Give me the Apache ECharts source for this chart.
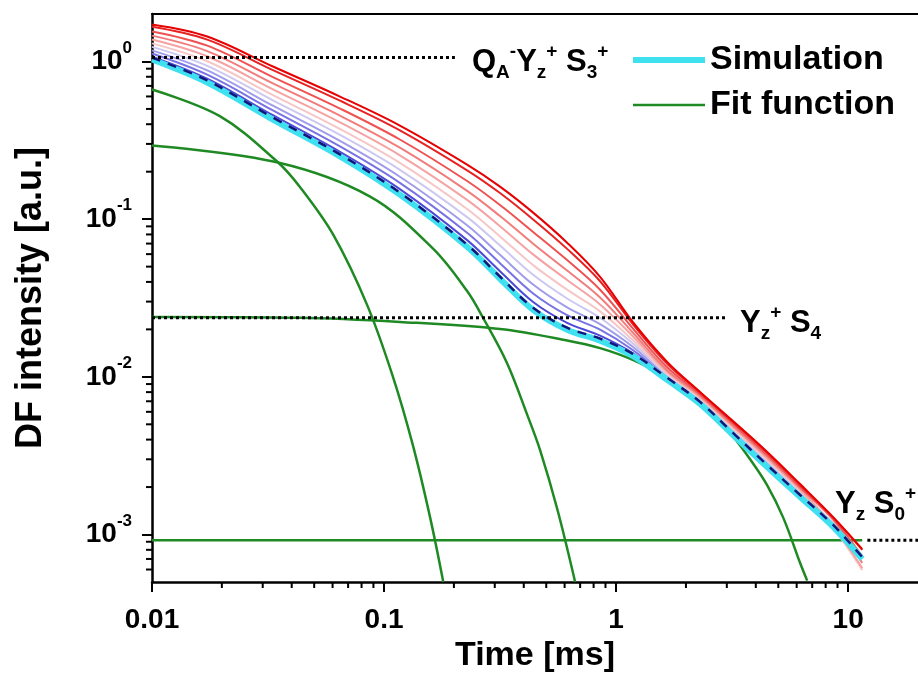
<!DOCTYPE html>
<html>
<head>
<meta charset="utf-8">
<script src="https://cdn.jsdelivr.net/npm/echarts@6/dist/echarts.min.js"></script>
<style>
  html, body { margin: 0; padding: 0; background: #fff; }
  #chart { width: 918px; height: 684px; }
</style>
</head>
<body>
<div id="chart"></div>
<script>
// ---- Simulated DF decay traces (time in ms, intensity in a.u.) ----
const simTime = [0.01, 0.0173, 0.0332, 0.0646, 0.117, 0.228, 0.316, 0.439, 0.615, 0.853, 1.18, 1.66, 2.30, 3.19, 4.48, 6.21, 8.62, 11.5];

const trace1  = [1.718, 1.441, 0.929, 0.599, 0.392, 0.2218, 0.1608, 0.110, 0.0709, 0.0431, 0.0223, 0.01245, 0.00803, 0.00525, 0.00334, 0.00209, 0.00129, 0.000809];
const trace2  = [1.659, 1.375, 0.881, 0.564, 0.366, 0.2041, 0.1464, 0.0996, 0.0648, 0.0404, 0.0216, 0.01209, 0.00794, 0.00518, 0.00330, 0.00206, 0.00128, 0.000800];
const trace3  = [1.551, 1.260, 0.796, 0.503, 0.320, 0.1745, 0.1229, 0.0829, 0.0550, 0.0357, 0.0203, 0.01150, 0.00776, 0.00505, 0.00320, 0.00201, 0.00126, 0.000725];
const trace4  = [1.458, 1.163, 0.7255, 0.453, 0.2838, 0.1512, 0.1046, 0.0699, 0.0472, 0.0319, 0.0191, 0.0110, 0.00760, 0.00492, 0.00312, 0.00197, 0.00124, 0.000660];
const trace5  = [1.379, 1.079, 0.666, 0.411, 0.254, 0.1325, 0.0902, 0.0598, 0.0411, 0.0288, 0.0181, 0.01076, 0.00745, 0.00482, 0.00304, 0.00193, 0.00113, 0.000613];
const trace6  = [1.303, 1.003, 0.612, 0.373, 0.2274, 0.1161, 0.0777, 0.0511, 0.0357, 0.0260, 0.0171, 0.01051, 0.00731, 0.00470, 0.00297, 0.00189, 0.00110, 0.000595];
const trace7  = [1.238, 0.938, 0.567, 0.342, 0.2056, 0.1030, 0.0680, 0.0444, 0.0314, 0.0237, 0.0163, 0.0103, 0.00718, 0.00461, 0.00290, 0.00186, 0.00118, 0.000737];
const trace8  = [1.176, 0.877, 0.524, 0.3135, 0.1858, 0.0914, 0.0594, 0.0385, 0.0276, 0.0216, 0.0155, 0.01009, 0.00706, 0.00452, 0.00284, 0.00182, 0.00116, 0.000726];
const trace9  = [1.124, 0.825, 0.489, 0.289, 0.1698, 0.0819, 0.0526, 0.0338, 0.0246, 0.0199, 0.01480, 0.00992, 0.00694, 0.00443, 0.00278, 0.00178, 0.00115, 0.000714];
const trace10 = [1.073, 0.777, 0.456, 0.267, 0.155, 0.0736, 0.0467, 0.0298, 0.0220, 0.01826, 0.01414, 0.00972, 0.00684, 0.00435, 0.00273, 0.00175, 0.00113, 0.000707];

// Reference simulation (thick cyan) and the dashed companion trace
const simulation  = [1.030, 0.736, 0.428, 0.250, 0.143, 0.0669, 0.0419, 0.0266, 0.0199, 0.01695, 0.01359, 0.00957, 0.00674, 0.00428, 0.00268, 0.00173, 0.001117, 0.000699];
const dashedTrace = [1.06, 0.758, 0.441, 0.2575, 0.1473, 0.0689, 0.0432, 0.0274, 0.0205, 0.01746, 0.0140, 0.00986, 0.00694, 0.00441, 0.00276, 0.00178, 0.00115, 0.00072];

// ---- Fit function components ----
const fastTime = [0.01, 0.0196, 0.0346, 0.0434, 0.0603, 0.0846, 0.109, 0.133, 0.158, 0.18];
const fastVal  = [0.664, 0.45, 0.232, 0.160, 0.080, 0.0285, 0.0101, 0.0037, 0.00128, 0.0005];

const midTime = [0.01, 0.0349, 0.0871, 0.1626, 0.228, 0.267, 0.339, 0.413, 0.470, 0.560, 0.666];
const midVal  = [0.293, 0.2285, 0.139, 0.065, 0.0350, 0.0237, 0.0122, 0.0058, 0.00344, 0.00142, 0.0005];

const slowTime = [0.01, 0.0434, 0.117, 0.316, 0.615, 0.853, 1.18, 1.66, 2.30, 2.72, 3.19, 3.78, 4.48, 5.25, 6.21, 6.66];
const slowVal  = [0.0240, 0.0237, 0.0223, 0.0201, 0.0170, 0.0152, 0.0128, 0.0099, 0.00705, 0.00557, 0.00420, 0.00300, 0.00205, 0.00128, 0.00066, 0.00051];

const constTime = [0.01, 11.5];
const constVal  = [0.00092, 0.00092];

// ---- Dotted level markers ----
const levelQA   = { time: [0.01, 0.202], value: 1.06 };
const levelYzS4 = { time: [0.01, 2.95], value: 0.0237 };
const levelYzS0 = { time: [12.1, 20], value: 0.00092 };

// ---- Axes ----
const xRange = [0.01, 20];
const yRange = [0.0005, 2];
const xTickLabels = { '-2': '0.01', '-1': '0.1', '0': '1', '1': '10' };
const xMinorTicks = [0.02, 0.03, 0.04, 0.05, 0.06, 0.07, 0.08, 0.09,
                     0.2, 0.3, 0.4, 0.5, 0.6, 0.7, 0.8, 0.9,
                     2, 3, 4, 5, 6, 7, 8, 9];
const yMinorTicks = [0.0006, 0.0007, 0.0008, 0.0009,
                     0.002, 0.003, 0.004, 0.005, 0.006, 0.007, 0.008, 0.009,
                     0.02, 0.03, 0.04, 0.05, 0.06, 0.07, 0.08, 0.09,
                     0.2, 0.3, 0.4, 0.5, 0.6, 0.7, 0.8, 0.9];

const traceColors = ['#e60000', '#e82222', '#ee5252', '#f27c7c', '#f5a2a2', '#f7c6c6',
                     '#cdc8f2', '#a09cec', '#7873e4', '#4e49d6'];
const FIT_GREEN = '#1f8a24';
const FONT = "'Liberation Sans', Arial, Helvetica, sans-serif";
const SMOOTH = 0.35;

function pairs(xs, ys) { return xs.map((x, i) => [x, ys[i]]); }

const series = [];

// fit components
[[fastTime, fastVal], [midTime, midVal], [slowTime, slowVal], [constTime, constVal]].forEach(([t, v]) => {
  series.push({
    name: 'Fit function', type: 'line', data: pairs(t, v), smooth: SMOOTH,
    symbol: 'none', lineStyle: { color: FIT_GREEN, width: 2.5 }, itemStyle: { color: FIT_GREEN },
    z: 2, silent: true
  });
});

// simulated traces, lightest drawn first
const traces = [trace1, trace2, trace3, trace4, trace5, trace6, trace7, trace8, trace9, trace10];
for (let idx = traces.length - 1; idx >= 0; idx--) {
  series.push({
    name: 'trace ' + (idx + 1), type: 'line', data: pairs(simTime, traces[idx]), smooth: SMOOTH,
    symbol: 'none', lineStyle: { color: traceColors[idx], width: 2 }, z: 3, silent: true
  });
}

series.push({
  name: 'Simulation', type: 'line', data: pairs(simTime, simulation), smooth: SMOOTH,
  symbol: 'none', lineStyle: { color: '#3fe0f0', width: 6 }, itemStyle: { color: '#3fe0f0' }, z: 4, silent: true
});
series.push({
  name: 'dashed trace', type: 'line', data: pairs(simTime, dashedTrace), smooth: SMOOTH,
  symbol: 'none', lineStyle: { color: '#16167a', width: 2.5, type: [9, 8] }, z: 5, silent: true
});

// dotted level markers
[levelQA, levelYzS4, levelYzS0].forEach(lv => {
  series.push({
    name: 'level', type: 'line', data: lv.time.map(t => [t, lv.value]),
    symbol: 'none', lineStyle: { color: '#000', width: 3, type: [3, 3] }, z: 6, silent: true
  });
});

// minor ticks drawn at log positions on both axes
function tickRenderer(horizontal) {
  return function (params, api) {
    const p = api.coord([api.value(0), api.value(1)]);
    return {
      type: 'line',
      shape: horizontal ? { x1: p[0], y1: p[1], x2: p[0], y2: p[1] + 6 }
                        : { x1: p[0], y1: p[1], x2: p[0] - 6, y2: p[1] },
      style: { stroke: '#000', lineWidth: 2 }
    };
  };
}
series.push({ type: 'custom', clip: false, silent: true, z: 7, renderItem: tickRenderer(true),
  data: xMinorTicks.map(v => [v, yRange[0]]) });
series.push({ type: 'custom', clip: false, silent: true, z: 7, renderItem: tickRenderer(false),
  data: yMinorTicks.map(v => [xRange[0], v]) });

const mainRich = {
  m:  { fontSize: 31, fontWeight: 'bold', fontFamily: FONT, color: '#000', lineHeight: 40, verticalAlign: 'middle' },
  sb: { fontSize: 19, fontWeight: 'bold', fontFamily: FONT, color: '#000', lineHeight: 20, verticalAlign: 'bottom' },
  sp: { fontSize: 19, fontWeight: 'bold', fontFamily: FONT, color: '#000', lineHeight: 20, verticalAlign: 'top' }
};

const option = {
  backgroundColor: '#fff',
  animation: false,
  grid: { left: 152, right: 0, top: 14, bottom: 102, containLabel: false },
  legend: {
    data: ['Simulation', 'Fit function'],
    orient: 'vertical', left: 630, top: 43, padding: 0,
    itemWidth: 72, itemHeight: 14, itemGap: 11,
    lineStyle: { width: 'inherit' },
    itemStyle: { opacity: 0 },
    textStyle: { fontSize: 34, fontWeight: 'bold', fontFamily: FONT, color: '#000' },
    selectedMode: false
  },
  xAxis: [{
    type: 'log', min: xRange[0], max: xRange[1], logBase: 10,
    name: 'Time [ms]', nameLocation: 'middle', nameGap: 57,
    nameTextStyle: { fontSize: 34, fontWeight: 'bold', fontFamily: FONT, color: '#000' },
    axisLine: { lineStyle: { color: '#000', width: 2.5 } },
    axisTick: { inside: false, length: 10, lineStyle: { color: '#000', width: 2 } },
    axisLabel: {
      margin: 24, fontSize: 28, fontWeight: 'bold', fontFamily: FONT, color: '#000',
      showMinLabel: true, showMaxLabel: false,
      formatter: v => xTickLabels[String(Math.round(Math.log10(v)))] || ''
    },
    splitLine: { show: false }
  }, {
    type: 'log', position: 'top', min: xRange[0], max: xRange[1],
    axisLine: { lineStyle: { color: '#000', width: 2 } },
    axisTick: { show: false }, axisLabel: { show: false }, splitLine: { show: false }
  }],
  yAxis: [{
    type: 'log', min: yRange[0], max: yRange[1], logBase: 10,
    name: 'DF intensity [a.u.]', nameLocation: 'middle', nameGap: 103,
    nameTextStyle: { fontSize: 36, fontWeight: 'bold', fontFamily: FONT, color: '#000' },
    axisLine: { lineStyle: { color: '#000', width: 2.5 } },
    axisTick: { inside: false, length: 10, lineStyle: { color: '#000', width: 2 } },
    axisLabel: {
      margin: 20, showMinLabel: false, showMaxLabel: false,
      formatter: v => '{b|10}{s|' + Math.round(Math.log10(v)) + '}',
      rich: {
        b: { fontSize: 28, fontWeight: 'bold', fontFamily: FONT, color: '#000', lineHeight: 44, verticalAlign: 'middle' },
        s: { fontSize: 17, fontWeight: 'bold', fontFamily: FONT, color: '#000', lineHeight: 17, verticalAlign: 'top' }
      }
    },
    splitLine: { show: false }
  }, {
    type: 'log', position: 'right', min: yRange[0], max: yRange[1],
    axisLine: { lineStyle: { color: '#c8c8c8', width: 1 } },
    axisTick: { show: false }, axisLabel: { show: false }, splitLine: { show: false }
  }],
  graphic: [
    { type: 'text', left: 472, top: 42, z: 100, style: { text: '{m|Q}{sb|A}{sp|-}{m|Y}{sb|z}{sp|+}{m| S}{sb|3}{sp|+}', rich: mainRich } },
    { type: 'text', left: 740, top: 303, z: 100, style: { text: '{m|Y}{sb|z}{sp|+}{m| S}{sb|4}', rich: mainRich } },
    { type: 'text', left: 835, top: 484, z: 100, style: { text: '{m|Y}{sb|z}{m| S}{sb|0}{sp|+}', rich: mainRich } }
  ],
  series: series
};

const chart = echarts.init(document.getElementById('chart'), null, { renderer: 'canvas' });
chart.setOption(option);
</script>
</body>
</html>
